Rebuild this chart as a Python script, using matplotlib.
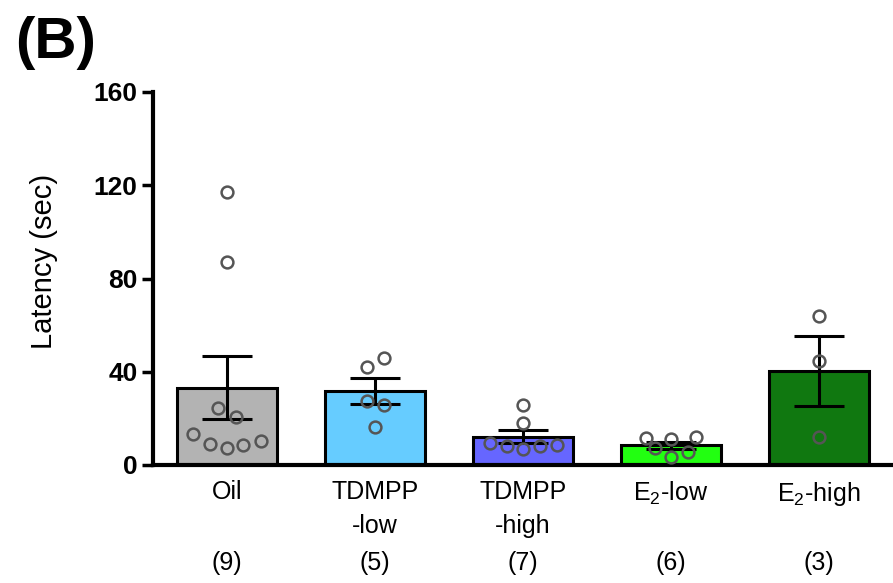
import matplotlib
matplotlib.use("Agg")
import matplotlib.pyplot as plt
import matplotlib.transforms as mtransforms
import numpy as np

# ---- data ----
categories = ["Oil", "TDMPP\n-low", "TDMPP\n-high", "E$_2$-low", "E$_2$-high"]
counts = ["(9)", "(5)", "(7)", "(6)", "(3)"]
means = [33.2, 31.8, 12.2, 8.4, 40.3]
sems = [13.5, 5.5, 2.8, 1.6, 15.2]
points = [
    [117, 87, 24.5, 20.6, 13.3, 9.0, 7.3, 8.6, 10.3],
    [42.2, 46.1, 27.6, 25.9, 16.4],
    [25.7, 17.9, 9.4, 8.3, 6.9, 8.0, 8.6],
    [11.4, 11.2, 12.1, 7.1, 5.4, 3.3],
    [64.1, 44.6, 12.1],
]
jitter = [
    [0, 0, -0.06, 0.06, -0.23, -0.115, 0, 0.11, 0.23],
    [-0.055, 0.06, -0.055, 0.06, 0],
    [0, 0, -0.225, -0.11, 0, 0.115, 0.23],
    [-0.17, 0, 0.17, -0.11, 0.115, 0],
    [0, 0, 0],
]
colors = ["#b3b3b3", "#66ccff", "#6666ff", "#22ff11", "#107810"]
yticks = [0, 40, 80, 120, 160]

plt.rcParams['font.family'] = ['Liberation Sans', 'DejaVu Sans']
plt.rcParams['mathtext.fontset'] = 'custom'
plt.rcParams['mathtext.rm'] = 'Liberation Sans'
plt.rcParams['mathtext.default'] = 'regular'

fig = plt.figure(figsize=(8.93, 5.83), dpi=100)
ax = fig.add_axes([153/893, 118/583, 740/893, 373/583])

x = np.arange(len(categories))
ax.bar(x, means, width=0.67, color=colors, edgecolor="black", linewidth=2.2, zorder=2)
ax.errorbar(x, means, yerr=sems, fmt="none", ecolor="black", elinewidth=2.2,
            capsize=18, capthick=2.2, zorder=3)
for i, (vals, jit) in enumerate(zip(points, jitter)):
    ax.plot(x[i] + np.array(jit), vals, linestyle="none", marker="o", markersize=8.5,
            markerfacecolor="none", markeredgecolor="#555555", markeredgewidth=1.8, zorder=4)

ax.set_xlim(-0.5, 4.5)
ax.set_ylim(0, 160)
ax.set_yticks(yticks)
ax.set_yticklabels([str(t) for t in yticks], fontweight="bold", fontsize=19)
ax.set_xticks(x)
ax.set_xticklabels(categories, fontsize=18, linespacing=1.5)
ax.tick_params(axis="x", length=0, pad=11)
ax.tick_params(axis="y", length=8, width=2.5, direction="out", pad=3)

for s in ["top", "right"]:
    ax.spines[s].set_visible(False)
for s in ["left", "bottom"]:
    ax.spines[s].set_linewidth(3)

ax.set_ylabel("Latency (sec)", fontsize=21)
ax.yaxis.set_label_coords(-0.128, 0.545)

trans = mtransforms.blended_transform_factory(ax.transData, fig.transFigure)
for i, c in enumerate(counts):
    ax.text(x[i], 20/583, c, transform=trans, ha="center", va="center", fontsize=18)

fig.text(15/893, 1 - 43/583, "(B)", fontweight="bold",
         fontsize=42, ha="left", va="center")

fig.savefig("out.png", dpi=100)
